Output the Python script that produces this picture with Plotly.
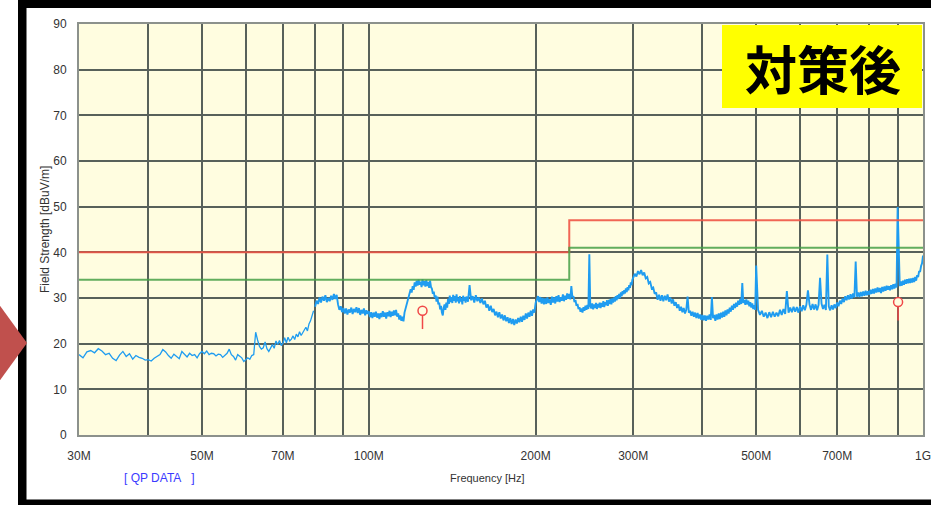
import plotly.graph_objects as go


def sweep(start, stop, step):
    """Receiver sweep frequencies (MHz) from start to stop inclusive."""
    n = int(round((stop - start) / step))
    return [round(start + k * step, 3) for k in range(n + 1)]


# ---- Measured field strength (QP scan), level in dBuV/m per sweep band ----
freq_a = sweep(30.0, 61.5, 0.5)
level_a = [17.6, 16.9, 18.2, 18.5, 18.0, 18.9, 18.4, 17.6, 17.9, 16.8,
           16.3, 17.5, 18.3, 17.2, 17.8, 16.6, 17.4, 17.0, 16.8, 16.4,
           16.5, 16.2, 16.8, 17.3, 17.6, 18.7, 18.2, 17.4, 16.8, 17.7,
           17.2, 16.7, 18.3, 17.6, 17.1, 17.9, 17.4, 17.6, 16.9, 17.8,
           18.3, 17.8, 18.4, 17.6, 17.9, 17.8, 17.3, 17.7, 17.6, 17.0,
           17.5, 17.9, 18.8, 17.6, 17.2, 16.4, 17.6, 17.2, 16.9, 16.1,
           16.6, 16.9, 16.6, 17.4]

freq_b = sweep(62.0, 79.5, 0.5)
level_b = [17.6, 22.5, 20.8, 19.4, 18.8, 19.1, 20.4, 18.9, 18.3, 19.2,
           19.8, 19.0, 20.6, 19.8, 20.7, 19.6, 20.1, 21.3, 20.2, 21.4,
           20.6, 21.0, 21.7, 20.9, 22.1, 21.5, 22.6, 21.8, 22.4, 23.1,
           23.6, 22.8, 24.3, 25.0, 25.9, 27.2]

freq_c = sweep(80.0, 149.5, 0.5)
level_c = [28.1, 29.4, 28.7, 30.1, 29.0, 30.3, 29.4, 30.6, 29.1, 30.0,
           29.3, 30.5, 29.6, 30.9, 29.8, 30.7, 28.6, 27.4, 28.2, 26.9,
           27.8, 26.6, 27.7, 26.4, 27.5, 26.8, 27.9, 26.5, 27.6, 26.9,
           28.0, 26.7, 27.8, 26.3, 27.4, 26.6, 27.7, 26.2, 27.3, 26.5,
           27.1, 25.8, 26.9, 25.6, 26.8, 25.9, 27.0, 25.7, 26.6, 25.4,
           26.7, 25.8, 27.1, 25.9, 26.8, 25.5, 26.9, 26.0, 27.2, 25.8,
           27.0, 26.1, 27.3, 26.2, 27.4, 25.9, 26.6, 25.3, 26.2, 25.0,
           25.9, 24.9, 26.8, 27.6, 28.5, 29.1, 30.2, 30.8, 31.9, 31.2,
           32.6, 31.8, 33.4, 32.5, 33.8, 32.7, 34.0, 32.9, 33.6, 32.4,
           34.1, 32.8, 33.7, 32.5, 33.9, 32.6, 33.5, 32.2, 33.8, 32.4,
           32.0, 30.9, 31.4, 30.1, 30.6, 29.2, 30.3, 28.6, 29.0, 27.5,
           28.3, 26.8, 26.2, 27.9, 28.6, 27.4, 29.0, 27.9, 29.8, 28.7,
           30.5, 29.1, 30.2, 28.9, 30.7, 29.4, 30.4, 29.0, 30.8, 29.3,
           30.1, 28.8, 30.4, 29.2, 30.0, 28.6, 30.5, 29.4, 30.2, 29.0]

freq_d = sweep(150, 299, 1)
level_d = [30.3, 29.2, 32.8, 29.5, 30.4, 29.0, 30.6, 29.3, 30.1, 28.9,
           29.9, 28.6, 29.4, 27.9, 28.6, 27.2, 28.3, 26.9, 27.6, 26.2,
           27.0, 25.8, 26.9, 25.5, 26.4, 25.1, 26.2, 24.9, 25.8, 24.5,
           25.6, 24.3, 25.4, 24.1, 25.3, 24.4, 25.6, 24.7, 25.9, 24.8,
           26.1, 25.2, 26.6, 25.5, 26.8, 25.9, 27.2, 26.1, 27.5, 26.8,
           28.9, 29.6, 30.4, 29.1, 30.2, 28.8, 30.0, 28.6, 29.9, 28.7,
           30.1, 28.9, 29.7, 28.5, 30.3, 29.0, 30.1, 28.8, 30.4, 29.2,
           30.6, 29.1, 30.2, 29.4, 30.8, 29.3, 30.5, 29.6, 31.0, 29.8,
           30.9, 29.7, 32.6, 30.2, 30.4, 29.1, 29.6, 28.3, 28.7, 27.6,
           28.0, 27.0, 27.7, 26.8, 28.0, 27.2, 28.3, 27.4, 28.5, 27.6,
           39.6, 28.2, 27.7, 28.8, 27.5, 28.6, 27.8, 28.9, 27.6, 28.7,
           27.9, 29.0, 27.8, 28.9, 28.1, 29.3, 28.0, 29.1, 28.4, 29.5,
           28.3, 29.6, 28.7, 29.8, 28.6, 29.9, 29.0, 30.1, 29.2, 30.4,
           29.5, 30.6, 29.8, 30.9, 30.0, 31.2, 30.4, 31.5, 30.8, 31.7,
           31.0, 32.1, 31.3, 32.4, 31.7, 32.8, 32.2, 33.4, 32.8, 34.0]

freq_e = sweep(300, 498, 2)
level_e = [34.5, 35.3, 34.7, 35.9, 35.2, 36.1, 35.0, 35.6, 34.3, 34.6,
           33.2, 33.5, 32.1, 32.3, 30.9, 31.2, 29.6, 30.7, 29.4, 30.6,
           29.3, 30.5, 29.5, 30.8, 29.2, 30.1, 28.8, 29.7, 28.3, 29.1,
           27.8, 28.6, 27.2, 28.1, 26.9, 27.8, 26.6, 27.4, 30.3, 26.8,
           27.2, 26.1, 27.0, 25.9, 26.8, 25.6, 26.7, 25.5, 26.4, 25.2,
           26.3, 25.1, 26.2, 25.0, 26.1, 25.3, 26.4, 25.2, 30.2, 25.6,
           26.3, 25.0, 26.4, 25.3, 26.6, 25.4, 26.8, 25.7, 27.0, 25.9,
           27.3, 26.2, 27.5, 26.6, 27.9, 27.0, 28.3, 27.4, 28.7, 27.8,
           29.0, 28.1, 29.4, 28.5, 29.8, 28.7, 33.3, 28.9, 29.6, 28.5,
           29.7, 28.6, 29.4, 28.2, 29.1, 27.9, 28.8, 27.6, 28.4, 27.4]

freq_f = sweep(500, 1000, 4)
level_f = [37.1, 27.4, 26.3, 27.2, 25.9, 26.8, 25.6, 26.9, 25.8, 27.0,
           25.9, 26.8, 26.0, 27.4, 26.3, 27.6, 26.5, 31.5, 26.8, 27.9,
           26.9, 28.1, 27.0, 28.0, 26.8, 28.2, 27.1, 28.4, 27.3, 28.5,
           31.7, 28.6, 27.4, 28.7, 27.5, 28.6, 27.3, 28.5, 34.4, 28.8,
           27.6, 28.5, 27.4, 39.5, 28.2, 27.3, 28.4, 27.5, 28.6, 27.8,
           29.0, 28.2, 29.4, 28.7, 29.9, 29.1, 30.4, 29.5, 30.6, 29.7,
           30.8, 29.9, 31.0, 30.1, 38.0, 30.3, 31.2, 30.2, 31.3, 30.4,
           31.4, 30.5, 31.6, 30.6, 31.5, 30.7, 31.8, 30.9, 32.0, 31.0,
           32.1, 31.2, 32.3, 31.3, 32.2, 31.1, 32.4, 31.4, 32.5, 31.6,
           32.7, 31.8, 32.6, 31.7, 32.8, 31.9, 33.0, 32.1, 33.1, 32.3,
           49.9, 43.3, 32.6, 33.6, 32.7, 33.8, 32.9, 34.0, 33.1, 34.1,
           33.2, 34.2, 33.3, 34.3, 33.4, 34.4, 33.5, 34.6, 33.8, 35.0,
           34.6, 35.9, 35.7, 37.0, 37.6, 39.3]

# below 80 MHz the trace is quiet; above it the noise floor is broadband
freq_low = freq_a + freq_b
level_low = level_a + level_b
freq_high = freq_c + freq_d + freq_e + freq_f
level_high = level_c + level_d + level_e + level_f

# ---- Limit lines (step at 230 MHz) ----
limit_freq = [30, 230, 1000]
limit_class = [40, 47, 47]
limit_margin = [34, 41, 41]

# ---- QP measurement points ----
qp_freq = [125.0, 901.7]
qp_level = [27.2, 29.1]

# ---- Axis ticks ----
grid_freq = [30, 40, 50, 60, 70, 80, 90, 100, 200, 300, 400, 500, 600, 700, 800, 900, 1000]
grid_text = ["30M", "", "50M", "", "70M", "", "", "100M", "200M", "300M", "", "500M", "",
             "700M", "", "", "1G"]
level_ticks = [0, 10, 20, 30, 40, 50, 60, 70, 80, 90]

W, H = 931, 505
ML, MR, MT, MB = 79, 8, 24, 70
PW, PH = W - ML - MR, H - MT - MB


def px(x):
    return (x - ML) / PW


def py(y):
    return (H - MB - y) / PH


trace_color = "#1f9cf0"
fig = go.Figure()

fig.add_trace(go.Scatter(
    x=freq_low, y=level_low, mode="lines",
    line=dict(color=trace_color, width=1.3), hoverinfo="skip", showlegend=False))
fig.add_trace(go.Scatter(
    x=freq_high, y=level_high, mode="lines",
    line=dict(color=trace_color, width=1.9), hoverinfo="skip", showlegend=False))

fig.add_trace(go.Scatter(
    x=limit_freq, y=limit_class, mode="lines", line_shape="hv",
    line=dict(color="rgba(240,85,70,0.9)", width=2), showlegend=False))
fig.add_trace(go.Scatter(
    x=limit_freq, y=limit_margin, mode="lines", line_shape="hv",
    line=dict(color="rgba(70,160,70,0.85)", width=2), showlegend=False))

fig.add_trace(go.Scatter(
    x=qp_freq, y=qp_level, mode="markers",
    marker=dict(symbol="circle", size=9, color="#fffde0",
                line=dict(color="#f04848", width=1.5)),
    error_y=dict(type="data", symmetric=False, array=[0, 0], arrayminus=[4, 4],
                 color="#f04848", thickness=1.5, width=0),
    showlegend=False))

grid_color = "#58615a"
fig.update_xaxes(
    type="log", range=[1.4771213, 3.0], tickvals=grid_freq, ticktext=grid_text,
    showgrid=True, gridcolor=grid_color, gridwidth=1.6, automargin=False,
    ticklabeloverflow="allow",
    showline=True, linecolor="#8c918c", linewidth=2, mirror=True,
    ticks="", ticklabelstandoff=9, zeroline=False,
    tickfont=dict(family="Liberation Sans", size=12, color="#333333"))
fig.update_yaxes(
    range=[0, 90], tickvals=level_ticks, automargin=False,
    showgrid=True, gridcolor=grid_color, gridwidth=1.6,
    showline=True, linecolor="#8c918c", linewidth=2, mirror=True,
    ticks="", ticklabelstandoff=8, zeroline=False,
    tickfont=dict(family="Liberation Sans", size=12, color="#333333"))

shapes = [
    # black outer frame
    dict(type="rect", xref="paper", yref="paper", x0=px(18), x1=px(940), y0=py(8), y1=py(-5),
         fillcolor="black", line_width=0, layer="above"),
    dict(type="rect", xref="paper", yref="paper", x0=px(18), x1=px(26.5), y0=py(510), y1=py(-5),
         fillcolor="black", line_width=0, layer="above"),
    dict(type="rect", xref="paper", yref="paper", x0=px(18), x1=px(940), y0=py(510), y1=py(499.5),
         fillcolor="black", line_width=0, layer="above"),
    # pointer arrow on the left
    dict(type="path", xref="paper", yref="paper",
         path=f"M {px(-2)} {py(303)} L {px(27)} {py(343)} L {px(-2)} {py(383)} Z",
         fillcolor="#c0504d", line_width=0, layer="above"),
    # label box
    dict(type="rect", xref="paper", yref="paper", x0=px(722), x1=px(922), y0=py(108), y1=py(25),
         fillcolor="#ffff00", line_width=0, layer="above"),
]

annotations = [
    dict(text="<b>対策後</b>", x=px(823), y=py(67), xref="paper", yref="paper",
         showarrow=False, xanchor="center", yanchor="middle",
         font=dict(family="Noto Sans CJK JP", size=52, color="black")),
    dict(text="Field Strength [dBuV/m]", x=px(45), y=py(230), xref="paper", yref="paper",
         showarrow=False, textangle=-90, xanchor="center", yanchor="middle",
         font=dict(family="Liberation Sans", size=12, color="#333333")),
    dict(text="Frequency [Hz]", x=px(487), y=py(478), xref="paper", yref="paper",
         showarrow=False, xanchor="center", yanchor="middle",
         font=dict(family="Liberation Sans", size=11, color="#333333")),
    dict(text="[ QP DATA\u00a0\u00a0\u00a0]", x=px(159), y=py(478), xref="paper", yref="paper",
         showarrow=False, xanchor="center", yanchor="middle",
         font=dict(family="Liberation Sans", size=12, color="#3a3aff")),
]

fig.update_layout(
    width=W, height=H, margin=dict(l=ML, r=MR, t=MT, b=MB),
    paper_bgcolor="white", plot_bgcolor="#fffde0",
    shapes=shapes, annotations=annotations, showlegend=False)

fig.write_html("out.html", config={"displayModeBar": False})
